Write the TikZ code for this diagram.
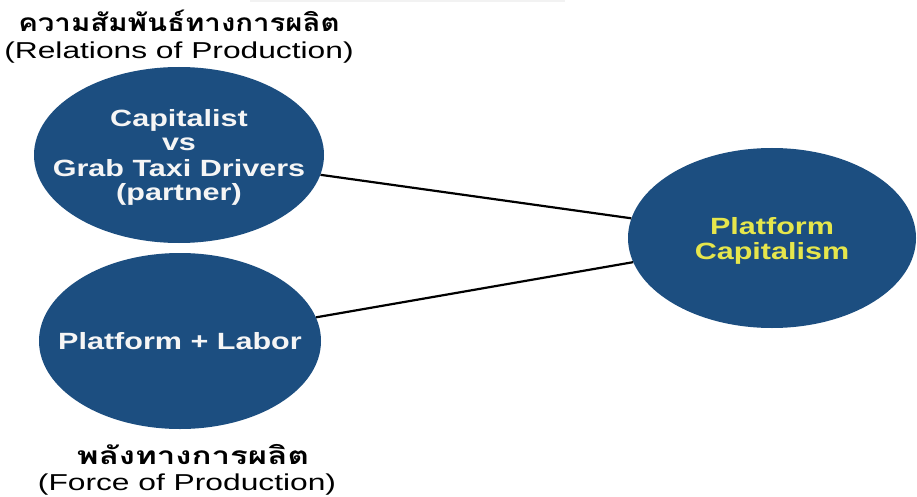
\documentclass[tikz,border=0pt]{standalone}
\usepackage{fontspec}
\setmainfont{Liberation Sans}
\newfontfamily\thaifont[Script=Thai]{Loma}
\usetikzlibrary{shapes.geometric}
\definecolor{ebl}{HTML}{1C4E80}
\definecolor{eyl}{HTML}{E6E64C}
\newcommand\wtext[2]{\scalebox{#1}[1]{\begin{tabular}{@{}c@{}}#2\end{tabular}}}
\newcommand\thailine[2]{\smash{\fontsize{24.5}{26}\selectfont\thaifont\bfseries\scalebox{#1}[1]{#2}}}
\begin{document}
\begin{tikzpicture}[x=1pt,y=1pt,
  blob/.style={ellipse, fill=ebl, inner sep=0pt, draw=none},
  intext/.style={font=\fontsize{23.5}{25}\selectfont\bfseries, text=white!96!black, inner sep=0pt, yshift=-3.5pt},
  link/.style={line width=2.2pt, black},
  caption/.style={anchor=base, inner sep=0pt}]
\useasboundingbox (0,0) rectangle (917,-497);
\fill[white] (0,0) rectangle (917,-497);
\fill[black!5] (250,1) rectangle (565,-2);
\node[blob, minimum width=290pt, minimum height=176pt,
  label={[intext]center:\wtext{1.3}{Capitalist\\vs\\Grab Taxi Drivers\\(partner)}}] (e1) at (179,-155) {};
\node[blob, minimum width=282pt, minimum height=176pt,
  label={[intext]center:\wtext{1.3}{Platform + Labor}}] (e2) at (180,-341) {};
\node[blob, minimum width=288pt, minimum height=180pt,
  label={[intext, text=eyl]center:\wtext{1.3}{Platform\\Capitalism}}] (e3) at (772,-238) {};
\draw[link] (e1) -- (e3);
\draw[link] (e2) -- (e3);
\node[caption, font=\fontsize{23}{27}\selectfont] (c1) at (179,-32)
  {\begin{tabular}[t]{@{}c@{}}\thailine{1.2}{ความสัมพันธ์ทางการผลิต}\\\scalebox{1.38}[1]{(Relations of Production)}\end{tabular}};
\node[caption, font=\fontsize{23}{26}\selectfont] (c2) at (187,-464)
  {\begin{tabular}[t]{@{}c@{}}\hspace*{12pt}\thailine{1.35}{พลังทางการผลิต}\\\scalebox{1.38}[1]{(Force of Production)}\end{tabular}};
\end{tikzpicture}
\end{document}
